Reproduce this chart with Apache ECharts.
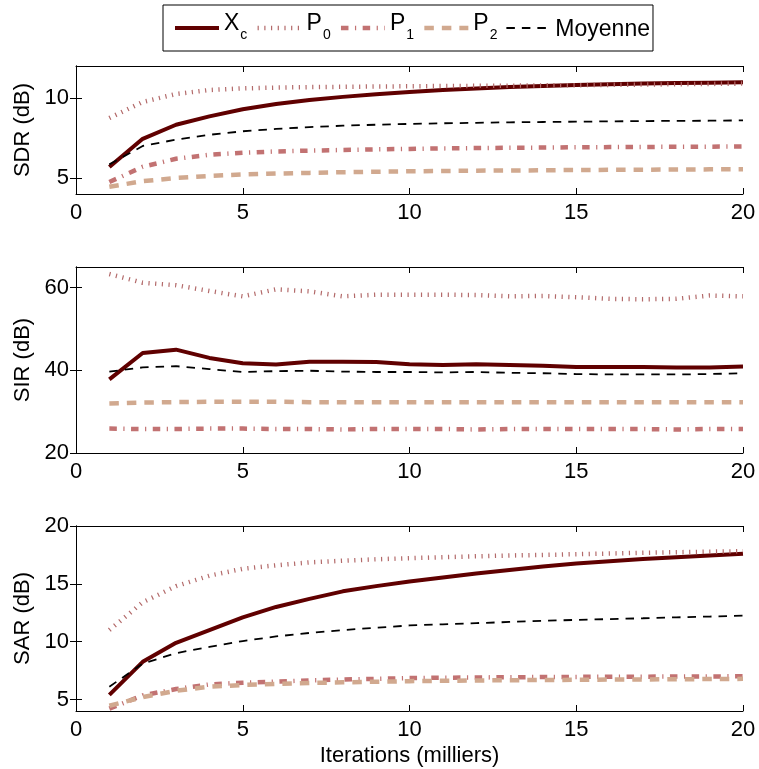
<!DOCTYPE html>
<html>
<head>
<meta charset="utf-8">
<script src="https://cdn.jsdelivr.net/npm/echarts@6/dist/echarts.min.js"></script>
<style>
html,body{margin:0;padding:0;background:#fff;}
#main{width:759px;height:769px;}
</style>
</head>
<body>
<div id="main"></div>
<script>
// ---- data ----
var iterations = [1,2,3,4,5,6,7,8,9,10,11,12,13,14,15,16,17,18,19,20];
var seriesNames = ['Xc','P0','P1','P2','Moyenne'];

var sdrXc  = [5.69,7.45,8.33,8.85,9.3,9.62,9.87,10.07,10.24,10.38,10.5,10.6,10.68,10.75,10.81,10.86,10.9,10.93,10.96,10.98];
var sdrP0  = [8.75,9.75,10.25,10.5,10.6,10.65,10.68,10.7,10.72,10.73,10.75,10.76,10.77,10.79,10.8,10.82,10.84,10.86,10.88,10.9];
var sdrP1  = [4.75,5.7,6.2,6.45,6.58,6.66,6.71,6.75,6.79,6.82,6.85,6.87,6.89,6.9,6.92,6.93,6.94,6.95,6.96,6.97];
var sdrP2  = [4.45,4.8,5.0,5.13,5.22,5.28,5.32,5.36,5.39,5.42,5.44,5.46,5.47,5.48,5.5,5.51,5.52,5.53,5.54,5.55];
var sdrMoy = [5.85,7.0,7.4,7.7,7.92,8.07,8.18,8.27,8.33,8.38,8.42,8.45,8.48,8.5,8.52,8.54,8.56,8.57,8.58,8.6];

var sirXc  = [37.8,44.2,45.0,43.0,41.7,41.4,42.1,42.1,42.0,41.5,41.3,41.5,41.3,41.1,40.8,40.8,40.8,40.7,40.7,40.9];
var sirP0  = [63.3,61.2,60.6,59.2,57.9,59.6,59.1,57.9,58.3,58.3,58.3,58.2,57.9,58.0,57.7,57.3,57.2,57.3,58.1,57.9];
var sirP1  = [25.9,25.8,25.8,25.9,25.9,25.8,25.8,25.7,25.8,25.8,25.8,25.7,25.8,25.8,25.8,25.8,25.8,25.7,25.8,25.8];
var sirP2  = [32.0,32.2,32.3,32.4,32.4,32.4,32.3,32.3,32.3,32.3,32.3,32.3,32.3,32.3,32.3,32.3,32.3,32.3,32.3,32.3];
var sirMoy = [39.7,40.7,41.0,40.3,39.6,39.8,39.9,39.7,39.6,39.6,39.5,39.6,39.4,39.3,39.1,39.0,39.0,39.0,39.1,39.3];

var sarXc  = [5.4,8.25,9.9,11.0,12.1,13.0,13.7,14.35,14.8,15.2,15.55,15.9,16.2,16.5,16.75,16.95,17.15,17.3,17.45,17.6];
var sarP0  = [11.0,13.4,14.8,15.7,16.3,16.6,16.85,17.0,17.12,17.22,17.3,17.38,17.45,17.5,17.56,17.62,17.68,17.73,17.78,17.82];
var sarP1  = [4.2,5.35,5.9,6.3,6.45,6.55,6.65,6.72,6.78,6.85,6.88,6.9,6.92,6.94,6.95,6.96,6.97,6.98,6.99,7.0];
var sarP2  = [4.45,5.2,5.75,6.1,6.25,6.35,6.42,6.48,6.53,6.58,6.61,6.64,6.66,6.68,6.7,6.72,6.73,6.75,6.76,6.78];
var sarMoy = [6.1,8.1,9.0,9.55,10.05,10.45,10.75,11.0,11.2,11.4,11.5,11.6,11.7,11.8,11.88,11.95,12.02,12.1,12.17,12.25];

var xTicks = [0,5,10,15,20];
var panelNames = ['SDR (dB)','SIR (dB)','SAR (dB)'];
var yMin = [4,20,4];
var yMax = [12,65,20];
var yTicks = [[5,10],[20,40,60],[5,10,15,20]];
var panelData = [
  [sdrXc,sdrP0,sdrP1,sdrP2,sdrMoy],
  [sirXc,sirP0,sirP1,sirP2,sirMoy],
  [sarXc,sarP0,sarP1,sarP2,sarMoy]
];

// ---- styles ----
var FONT = 'Liberation Sans, Arial, Helvetica, sans-serif';
var lineStyles = {
  'Xc':      {color:'#600000', width:4,   type:'solid'},
  'P0':      {color:'#b36a6a', width:4.5, type:[1.2,5.5]},
  'P1':      {color:'#c27272', width:4.5, type:[7.5,6.5,1.2,6.5]},
  'P2':      {color:'#d1a98f', width:4.5, type:[9.5,8]},
  'Moyenne': {color:'#000000', width:1.8, type:[8.5,7]}
};
var grids = [
  {left:76, top:66,  width:667, height:128},
  {left:76, top:267, width:667, height:186},
  {left:76, top:526, width:667, height:185}
];

var xAxes = [], yAxes = [], series = [];
for (var p = 0; p < 3; p++) {
  xAxes.push({
    type:'value', gridIndex:p, position:'bottom', min:0, max:20, interval:5,
    axisLine:{show:true, lineStyle:{color:'#000', width:1}},
    axisTick:{show:true, inside:true, length:6, lineStyle:{color:'#000'}},
    axisLabel:{show:true, margin:8, color:'#000', fontSize:22, fontFamily:FONT, customValues:xTicks},
    splitLine:{show:false},
    name: p === 2 ? 'Iterations (milliers)' : '',
    nameLocation:'middle', nameGap:34,
    nameTextStyle:{color:'#000', fontSize:22, fontFamily:FONT}
  });
  xAxes.push({
    type:'value', gridIndex:p, position:'top', min:0, max:20, interval:5,
    axisLine:{show:true, lineStyle:{color:'#000', width:1}},
    axisTick:{show:true, inside:true, length:6, lineStyle:{color:'#000'}},
    axisLabel:{show:false},
    splitLine:{show:false}
  });
  yAxes.push({
    type:'value', gridIndex:p, position:'left', min:yMin[p], max:yMax[p],
    axisLine:{show:true, lineStyle:{color:'#000', width:1}},
    axisTick:{show:true, inside:true, length:6, lineStyle:{color:'#000'}, customValues:yTicks[p]},
    axisLabel:{show:true, margin:7, color:'#000', fontSize:22, fontFamily:FONT, customValues:yTicks[p]},
    splitLine:{show:false},
    name:panelNames[p], nameLocation:'middle', nameGap:40,
    nameTextStyle:{color:'#000', fontSize:22, fontFamily:FONT}
  });
  yAxes.push({
    type:'value', gridIndex:p, position:'right', min:yMin[p], max:yMax[p],
    axisLine:{show:true, lineStyle:{color:'#000', width:1}},
    axisTick:{show:true, inside:true, length:6, lineStyle:{color:'#000'}, customValues:yTicks[p]},
    axisLabel:{show:false, customValues:yTicks[p]},
    splitLine:{show:false}
  });
  for (var s = 0; s < seriesNames.length; s++) {
    var vals = panelData[p][s];
    var pts = [];
    for (var k = 0; k < iterations.length; k++) pts.push([iterations[k], vals[k]]);
    var ls = lineStyles[seriesNames[s]];
    series.push({
      type:'line', name:seriesNames[s], xAxisIndex:p*2, yAxisIndex:p*2,
      data:pts, symbol:'none', showSymbol:false, smooth:false,
      lineStyle:{color:ls.color, width:ls.width, type:ls.type, cap:'butt'},
      itemStyle:{color:ls.color},
      z: 2 + s
    });
  }
}

var legendData = seriesNames.map(function(n){
  var ls = lineStyles[n];
  return {
    name:n,
    itemStyle:{opacity:0, borderWidth:0},
    lineStyle:{color:ls.color, width:ls.width, type:ls.type, cap:'butt', opacity:1}
  };
});

var chart = echarts.init(document.getElementById('main'), null, {renderer:'canvas'});
chart.setOption({
  animation:false,
  backgroundColor:'#fff',
  grid:grids,
  xAxis:xAxes,
  yAxis:yAxes,
  legend:{
    data:legendData,
    left:163, top:5,
    orient:'horizontal',
    itemWidth:44, itemHeight:14, itemGap:8,
    padding:[7,3,7,10],
    borderColor:'#000', borderWidth:1,
    backgroundColor:'#fff',
    textStyle:{
      color:'#000', fontFamily:FONT, fontSize:23,
      rich:{
        m:{fontSize:23, lineHeight:26, padding:[0,0,9,0], fontFamily:FONT, color:'#000'},
        s:{fontSize:14, lineHeight:16, padding:[14,0,0,1], fontFamily:FONT, color:'#000'},
        n:{fontSize:23, lineHeight:26, padding:[3,0,0,0], fontFamily:FONT, color:'#000'}
      }
    },
    formatter:function(name){
      if (name === 'Moyenne') return '{n|Moyenne}';
      return '{m|' + name.charAt(0) + '}{s|' + name.slice(1) + '}';
    }
  },
  series:series
});
</script>
</body>
</html>
